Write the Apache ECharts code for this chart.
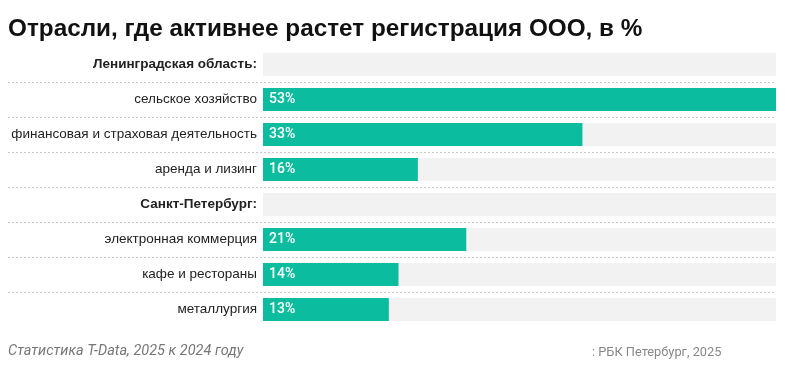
<!DOCTYPE html>
<html><head><meta charset="utf-8">
<script src="https://cdn.jsdelivr.net/npm/echarts@6/dist/echarts.min.js"></script>
<style>html,body{margin:0;padding:0;background:#fff}#c{width:785px;height:388px}</style>
</head><body><div id="c"></div>
<script>
const categories = ['Ленинградская область:', 'сельское хозяйство', 'финансовая и страховая деятельность', 'аренда и лизинг', 'Санкт-Петербург:', 'электронная коммерция', 'кафе и рестораны', 'металлургия'];
const isHeader = [true, false, false, false, true, false, false, false];
const values = [null, 53, 33, 16, null, 21, 14, 13];
const maxValue = 53;
const titleText = 'Отрасли, где активнее растет регистрация ООО, в %';
const noteText = 'Статистика T-Data, 2025 к 2024 году';
const sourceText = ': РБК Петербург, 2025';

const chart = echarts.init(document.getElementById('c'), null, {renderer: 'canvas'});
const FONT = 'Roboto, "Liberation Sans", Arial, sans-serif';
const TFONT = '"Liberation Sans", Arial, sans-serif';
chart.setOption({
  animation: false,
  textStyle: {fontFamily: FONT},
  title: [
    {text: titleText, left: 3, top: 12, padding: 5, textStyle: {fontSize: 24.3, fontWeight: 'bold', color: '#111', fontFamily: TFONT}},
    {text: noteText, left: 3, top: 339, padding: 5, textStyle: {fontSize: 14.5, fontStyle: 'italic', fontWeight: 'normal', color: '#777', fontFamily: FONT}},
    {text: sourceText, left: 587, top: 341, padding: 5, textStyle: {fontSize: 12.8, fontWeight: 'normal', color: '#888', fontFamily: FONT}}
  ],
  grid: [
    {left: 8, width: 768, top: 47, height: 280},
    {left: 263, width: 513, top: 47, height: 280}
  ],
  xAxis: [
    {type: 'value', gridIndex: 0, show: false, min: 0, max: 1},
    {type: 'value', gridIndex: 1, show: false, min: 0, max: maxValue}
  ],
  yAxis: [
    {type: 'category', gridIndex: 0, inverse: true, data: categories,
     axisLine: {show: false}, axisTick: {show: false}, axisLabel: {show: false},
     splitLine: {show: true, showMinLine: false, showMaxLine: false, lineStyle: {type: [2, 2], color: '#c8c8c8', width: 1}}},
    {type: 'category', gridIndex: 1, inverse: true, data: categories,
     axisLine: {show: false}, axisTick: {show: false}, splitLine: {show: false},
     axisLabel: {margin: 6, fontSize: 13.5, color: '#222', fontFamily: TFONT,
       formatter: (v, i) => isHeader[i] ? '{b|' + v + '}' : v,
       rich: {b: {fontWeight: 'bold', fontSize: 13.5, color: '#222', fontFamily: TFONT}}}}
  ],
  series: [
    {type: 'bar', xAxisIndex: 1, yAxisIndex: 1, data: categories.map(() => maxValue),
     barWidth: 23, barGap: '-100%', itemStyle: {color: '#f2f2f2'}, silent: true, z: 1},
    {type: 'bar', xAxisIndex: 1, yAxisIndex: 1, data: values, barWidth: 23, z: 2,
     itemStyle: {color: '#0cbc9f'},
     label: {show: true, position: 'insideLeft', distance: 6, color: '#fff', fontWeight: 500, fontSize: 14, fontFamily: FONT,
       formatter: p => p.value == null ? '' : p.value + '%'}}
  ]
});
</script></body></html>
